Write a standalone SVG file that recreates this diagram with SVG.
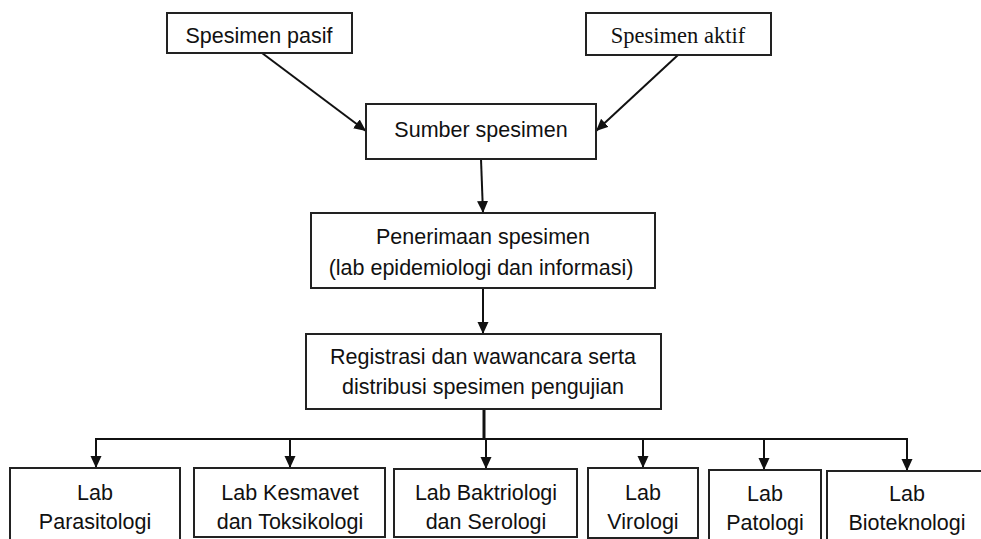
<svg xmlns="http://www.w3.org/2000/svg" width="981" height="539" viewBox="0 0 981 539">
<style>
.box{fill:#fff;stroke:#222;stroke-width:2}
.t{font-family:"Liberation Sans",Arial,sans-serif;font-size:21.5px;fill:#111;text-anchor:middle}
.s{font-family:"Liberation Serif","Times New Roman",serif;font-size:22.5px;fill:#111;text-anchor:middle}
.c{fill:none;stroke:#111;stroke-width:2}
</style>
<defs>
<marker id="ah" markerUnits="userSpaceOnUse" markerWidth="14" markerHeight="12" refX="12" refY="5.5" orient="auto">
<path d="M0,0 L12,5.5 L0,11 z" fill="#111"/>
</marker>
</defs>
<rect width="981" height="539" fill="#fff"/>
<g id="connectors">
<line class="c" x1="262" y1="53" x2="366" y2="131" marker-end="url(#ah)"/>
<line class="c" x1="678" y1="55" x2="596" y2="131" marker-end="url(#ah)"/>
<line class="c" x1="481" y1="159" x2="483" y2="213" marker-end="url(#ah)"/>
<line class="c" x1="483" y1="288" x2="483" y2="334" marker-end="url(#ah)"/>
<line class="c" x1="484" y1="409" x2="484" y2="440" style="stroke-width:3"/>
<line class="c" x1="95" y1="439" x2="908" y2="439"/>
<line class="c" x1="96" y1="439" x2="96" y2="468" marker-end="url(#ah)"/>
<line class="c" x1="290" y1="439" x2="290" y2="468" marker-end="url(#ah)"/>
<line class="c" x1="486" y1="439" x2="486" y2="469" marker-end="url(#ah)"/>
<line class="c" x1="643" y1="439" x2="643" y2="468" marker-end="url(#ah)"/>
<line class="c" x1="764" y1="439" x2="764" y2="470" marker-end="url(#ah)"/>
<line class="c" x1="907" y1="439" x2="907" y2="471" marker-end="url(#ah)"/>
</g>
<g id="pasif"><rect class="box" x="167" y="13" width="185" height="40"/><text class="t" x="259" y="43">Spesimen pasif</text></g>
<g id="aktif"><rect class="box" x="586" y="13" width="185" height="42"/><text class="s" x="678" y="43">Spesimen aktif</text></g>
<g id="sumber"><rect class="box" x="366" y="104" width="230" height="55"/><text class="t" x="481" y="137">Sumber spesimen</text></g>
<g id="penerimaan"><rect class="box" x="311" y="213" width="344" height="75"/><text class="t" x="483" y="244">Penerimaan spesimen</text><text class="t" x="481" y="275">(lab epidemiologi  dan informasi)</text></g>
<g id="registrasi"><rect class="box" x="306" y="334" width="355" height="75"/><text class="t" x="483" y="364">Registrasi dan wawancara serta</text><text class="t" x="483" y="394">distribusi spesimen pengujian</text></g>
<g id="parasitologi"><rect class="box" x="10" y="468" width="170" height="76"/><text class="t" x="95" y="500">Lab</text><text class="t" x="95" y="529">Parasitologi</text></g>
<g id="kesmavet"><rect class="box" x="194" y="468" width="191" height="69"/><text class="t" x="290" y="500">Lab Kesmavet</text><text class="t" x="290" y="529">dan Toksikologi</text></g>
<g id="bakteriologi"><rect class="box" x="394" y="469" width="183" height="68"/><text class="t" x="486" y="500">Lab Baktriologi</text><text class="t" x="486" y="529">dan Serologi</text></g>
<g id="virologi"><rect class="box" x="588" y="468" width="110" height="70"/><text class="t" x="643" y="500">Lab</text><text class="t" x="643" y="529">Virologi</text></g>
<g id="patologi"><rect class="box" x="709" y="470" width="112" height="74"/><text class="t" x="765" y="501">Lab</text><text class="t" x="765" y="530">Patologi</text></g>
<g id="bioteknologi"><rect class="box" x="827" y="471" width="160" height="74"/><text class="t" x="907" y="501">Lab</text><text class="t" x="907" y="530">Bioteknologi</text></g>
</svg>
